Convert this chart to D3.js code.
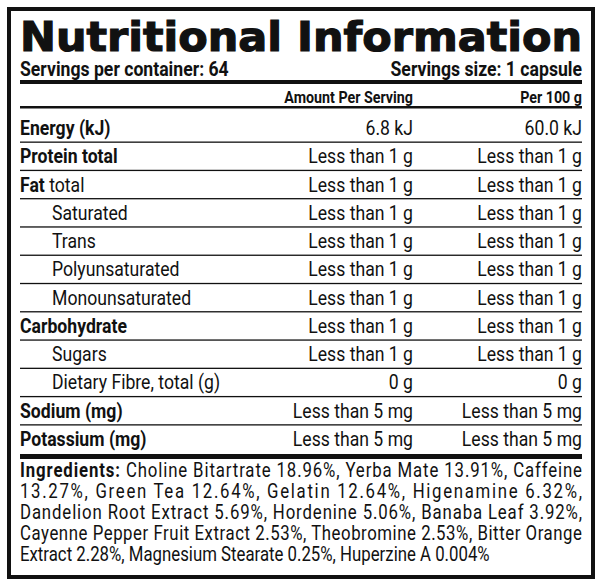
<!DOCTYPE html>
<html><head><meta charset="utf-8">
<script src="https://cdn.jsdelivr.net/npm/d3@7"></script>
<style>body{margin:0;background:#fff}text{font-family:Roboto,"Liberation Sans",sans-serif;fill:#111}</style>
</head><body><svg id="c" width="600" height="584"></svg>
<script>
const title = "Nutritional Information";
const servingsPer = "Servings per container: 64";
const servingSize = "Servings size: 1 capsule";
const headers = ["Amount Per Serving", "Per 100 g"];
const labels = ["Energy (kJ)","Protein total","Fat","Saturated","Trans","Polyunsaturated","Monounsaturated","Carbohydrate","Sugars","Dietary Fibre, total (g)","Sodium (mg)","Potassium (mg)"];
const labelSuffix = ["",""," total","","","","","","","","",""];
const labelBold = [1,1,1,0,0,0,0,1,0,0,1,1];
const labelIndent = [0,0,0,1,1,1,1,0,1,1,0,0];
const perServing = ["6.8 kJ","Less than 1 g","Less than 1 g","Less than 1 g","Less than 1 g","Less than 1 g","Less than 1 g","Less than 1 g","Less than 1 g","0 g","Less than 5 mg","Less than 5 mg"];
const per100 = ["60.0 kJ","Less than 1 g","Less than 1 g","Less than 1 g","Less than 1 g","Less than 1 g","Less than 1 g","Less than 1 g","Less than 1 g","0 g","Less than 5 mg","Less than 5 mg"];
const ingredientLines = [
 "Choline Bitartrate 18.96%, Yerba Mate 13.91%, Caffeine",
 "13.27%, Green Tea 12.64%, Gelatin 12.64%, Higenamine 6.32%,",
 "Dandelion Root Extract 5.69%, Hordenine 5.06%, Banaba Leaf 3.92%,",
 "Cayenne Pepper Fruit Extract 2.53%, Theobromine 2.53%, Bitter Orange",
 "Extract 2.28%, Magnesium Stearate 0.25%, Huperzine A 0.004%"];

const svg = d3.select("#c");
const L = 20, R = 582, S = 0.84;
function txt(x, y, size, anchor){
  return svg.append("text").attr("transform",`translate(${x},${y}) scale(${S},1)`)
    .attr("text-anchor",anchor||"start").style("font-size",size+"px");
}
svg.append("rect").attr("x",9).attr("y",9).attr("width",584).attr("height",568)
  .attr("fill","none").attr("stroke","#111").attr("stroke-width",4);

svg.append("text").attr("x",L).attr("y",51).attr("textLength",R-L).attr("lengthAdjust","spacingAndGlyphs")
  .style("font-family","'DejaVu Sans',sans-serif").style("font-weight","900").style("font-size","41px")
  .style("stroke","#111").style("stroke-width",1.2).text(title);
txt(L,76,21).style("font-weight","bold").text(servingsPer);
txt(R,76,21,"end").style("font-weight","bold").text(servingSize);
svg.append("rect").attr("x",L).attr("y",80).attr("width",R-L).attr("height",4).attr("fill","#111");

const colX = [413, R];
headers.forEach((h,i)=>txt(colX[i],103,17,"end").style("font-weight","bold").text(h));
svg.append("rect").attr("x",L).attr("y",106).attr("width",R-L).attr("height",2.5).attr("fill","#111");

const y = d3.scalePoint().domain(d3.range(labels.length)).range([135,446]);
labels.forEach((d,i)=>{
  const t = txt(labelIndent[i]?52:L, y(i), 21);
  t.append("tspan").style("font-weight",labelBold[i]?"bold":"normal").text(d);
  if(labelSuffix[i]) t.append("tspan").text(labelSuffix[i]);
  txt(colX[0], y(i), 21, "end").text(perServing[i]);
  txt(colX[1], y(i), 21, "end").text(per100[i]);
  if(i<labels.length-1) svg.append("rect").attr("x",L).attr("y",y(i)+6.5).attr("width",R-L).attr("height",1.3).attr("fill","#111");
});

svg.append("rect").attr("x",L).attr("y",454).attr("width",R-L).attr("height",5).attr("fill","#111");
ingredientLines.forEach((ln,i)=>{
  const t = txt(L, 477+i*21, 20);
  if(i<ingredientLines.length-1) t.attr("textLength",(R-L)/S).attr("lengthAdjust","spacing");
  if(i===0){t.append("tspan").style("font-weight","bold").text("Ingredients: ");}
  t.append("tspan").text(ln);
});
</script></body></html>
